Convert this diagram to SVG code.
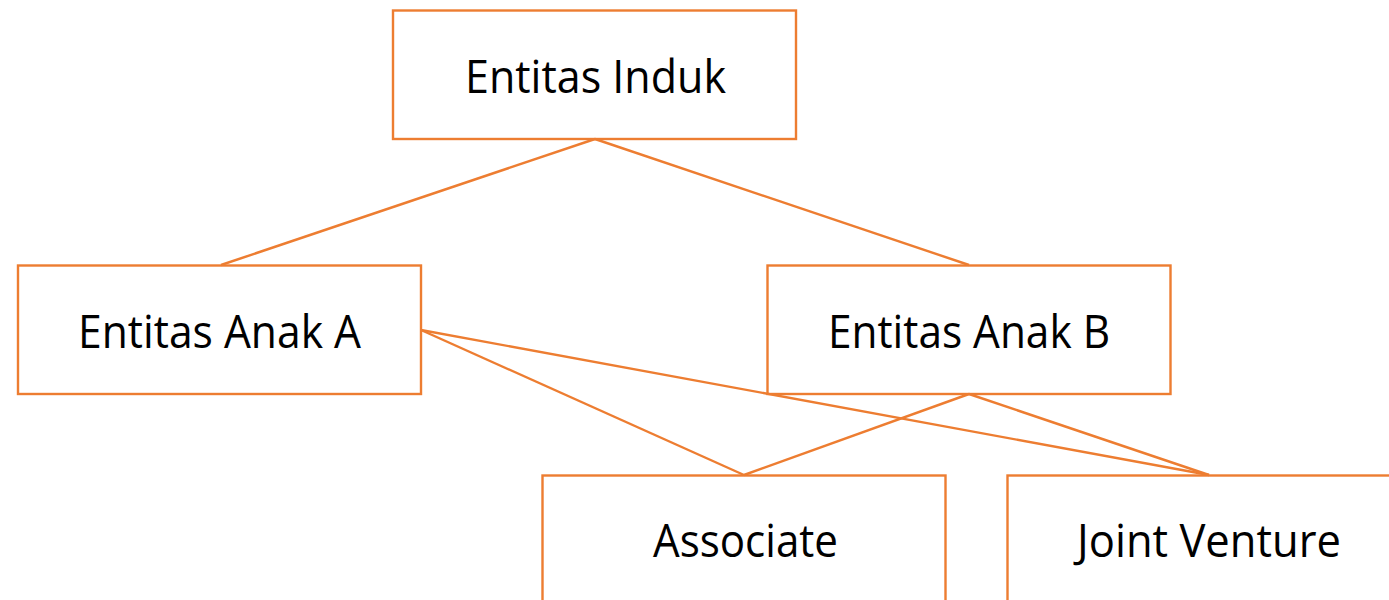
<svg xmlns="http://www.w3.org/2000/svg" width="1389" height="600" viewBox="0 0 1389 600">
  <style>
    .box { fill: none; stroke: #ED7D31; stroke-width: 2.4; }
    .link { fill: none; stroke: #ED7D31; stroke-width: 2.4; }
    .label { font-family: "Open Sans", "Noto Sans", sans-serif; font-size: 46px; fill: #000000; text-anchor: middle; }
  </style>
  <rect width="1389" height="600" fill="#ffffff"/>

  <!-- connectors -->
  <g id="connectors">
    <line class="link" x1="595" y1="139" x2="221" y2="265"/>
    <line class="link" x1="595" y1="139" x2="969" y2="265"/>
    <line class="link" x1="421" y1="330" x2="744" y2="475"/>
    <line class="link" x1="421" y1="330" x2="1209" y2="475"/>
    <line class="link" x1="969" y1="394" x2="744" y2="475"/>
    <line class="link" x1="969" y1="394" x2="1209" y2="475"/>
  </g>

  <g id="entitas-induk">
    <rect class="box" x="393" y="10.5" width="403" height="128.5"/>
    <text class="label" x="595.5" y="92.5" textLength="261" lengthAdjust="spacingAndGlyphs">Entitas Induk</text>
  </g>

  <g id="entitas-anak-a">
    <rect class="box" x="18" y="265.5" width="403" height="128.5"/>
    <text class="label" x="219.5" y="347.5" textLength="283" lengthAdjust="spacingAndGlyphs">Entitas Anak A</text>
  </g>

  <g id="entitas-anak-b">
    <rect class="box" x="767.5" y="265.5" width="403" height="128.5"/>
    <text class="label" x="969" y="347.5" textLength="282" lengthAdjust="spacingAndGlyphs">Entitas Anak B</text>
  </g>

  <g id="associate">
    <rect class="box" x="542.5" y="475.5" width="403" height="140"/>
    <text class="label" x="745.5" y="557" textLength="185" lengthAdjust="spacingAndGlyphs">Associate</text>
  </g>

  <g id="joint-venture">
    <rect class="box" x="1007.5" y="475.5" width="403" height="140"/>
    <text class="label" x="1209" y="557" textLength="264" lengthAdjust="spacingAndGlyphs">Joint Venture</text>
  </g>
</svg>
